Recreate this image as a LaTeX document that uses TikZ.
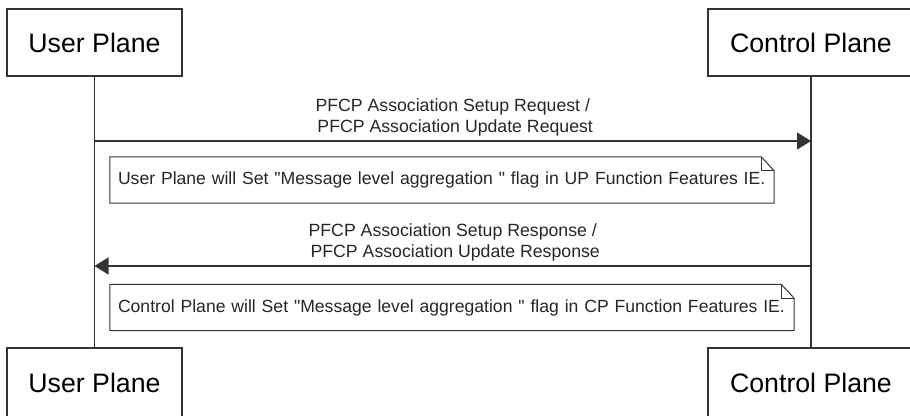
\documentclass[tikz,border=0pt]{standalone}
\usepackage{fontspec}
\setmainfont{Liberation Sans}[Ligatures=TeXOff]
\usetikzlibrary{arrows.meta}

\definecolor{linegray}{HTML}{333333}

\tikzset{
  participant/.style={draw=linegray, line width=1.3pt, font=\fontsize{26.7}{30}\selectfont, minimum height=67pt, inner sep=0pt},
  lifeline/.style={draw=linegray, line width=1.2pt},
  message/.style={draw=linegray, line width=1.2pt, -{Triangle[length=14pt,width=17pt]}},
  msglabel/.style={font=\fontsize{17.7}{21}\selectfont, align=center, inner sep=4pt, text=black!85},
  note/.style={font=\fontsize{17.6}{20}\selectfont, align=left, minimum height=46pt, inner xsep=8pt, inner ysep=0pt, text=black!85},
  noteline/.style={draw=linegray, line width=1pt},
}

\begin{document}
\begin{tikzpicture}[x=1pt, y=-1pt]
  \useasboundingbox (0,0) rectangle (910,415);
  \clip (0,0) rectangle (910,415);

  % Participants (top and bottom)
  \node[participant, minimum width=175pt] (up top) at (94.5,42.5) {User Plane};
  \node[participant, minimum width=206pt] (cp top) at (811,42.5) {Control Plane};
  \node[participant, minimum width=175pt, minimum height=70pt] (up bot) at (94.5,383) {User Plane};
  \node[participant, minimum width=206pt, minimum height=70pt] (cp bot) at (811,383) {Control Plane};

  % Lifelines
  \draw[lifeline] (up top) -- (up bot);
  \draw[lifeline] (cp top) -- (cp bot);

  % Request
  \coordinate (req up) at (94.5,141);
  \coordinate (req cp) at (811,141);
  \draw[message] (req up) -- (req cp)
    node[midway, above, msglabel] {PFCP Association Setup Request /\\\mbox{}\ PFCP Association Update Request};

  % Note on the user plane side
  \node[note, text width=648pt] (note up) at (442,180)
    {User Plane will Set "Message level aggregation " flag in UP Function Features IE.};
  \draw[noteline] (note up.north west) -- ([xshift=-13pt]note up.north east) -- ([yshift=-14pt]note up.north east)
    -- (note up.south east) -- (note up.south west) -- cycle;
  \draw[noteline] ([xshift=-13pt]note up.north east) -- ([xshift=-13pt,yshift=-14pt]note up.north east) -- ([yshift=-14pt]note up.north east);

  % Response
  \coordinate (rsp cp) at (811,266);
  \coordinate (rsp up) at (94.5,266);
  \draw[message] (rsp cp) -- (rsp up)
    node[midway, above, msglabel] {PFCP Association Setup Response /\\\mbox{}\ PFCP Association Update Response};

  % Note on the control plane side
  \node[note, text width=668pt] (note cp) at (452,307.5)
    {Control Plane will Set "Message level aggregation " flag in CP Function Features IE.};
  \draw[noteline] (note cp.north west) -- ([xshift=-13pt]note cp.north east) -- ([yshift=-14pt]note cp.north east)
    -- (note cp.south east) -- (note cp.south west) -- cycle;
  \draw[noteline] ([xshift=-13pt]note cp.north east) -- ([xshift=-13pt,yshift=-14pt]note cp.north east) -- ([yshift=-14pt]note cp.north east);
\end{tikzpicture}
\end{document}
